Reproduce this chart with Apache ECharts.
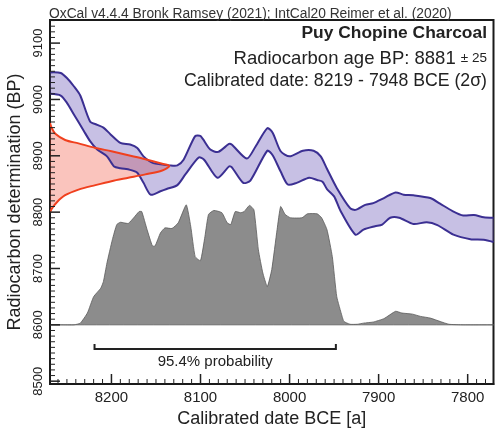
<!DOCTYPE html>
<html>
<head>
<meta charset="utf-8">
<script src="https://cdn.jsdelivr.net/npm/echarts@6/dist/echarts.min.js"></script>
<style>html,body{margin:0;padding:0;background:#fff;}#c{width:500px;height:434px;}</style>
</head>
<body>
<div id="c"></div>
<script>
// ---- data ----
var headerText = 'OxCal v4.4.4 Bronk Ramsey (2021); IntCal20 Reimer et al. (2020)';
var titleText = 'Puy Chopine Charcoal';
var c14Age = 8881, c14Err = 25;
var calRangeText = 'Calibrated date: 8219 - 7948 BCE (2σ)';
var rangeStart = 8219, rangeEnd = 7948, rangeLabel = '95.4% probability';

var xTickLabels = [8200, 8100, 8000, 7900, 7800];
var yTickLabels = [8500, 8600, 8700, 8800, 8900, 9000, 9100];

// IntCal20 band: [year BCE, BP]
var calUpper = [[8268.5,9048],[8257,9047],[8250,9038],[8242,9023],[8235,9007],[8224,8961],[8216,8955],[8209,8950],[8201,8938],[8190,8923],[8179,8920],[8171,8914],[8164,8899],[8153,8887],[8134,8883],[8126,8883],[8119,8893],[8106,8935],[8100,8935],[8089,8911],[8080,8907],[8068,8921],[8065,8920],[8048,8895],[8038,8917],[8025,8949],[8019,8941],[8010,8908],[8000,8899],[7985,8909],[7973,8909],[7965,8899],[7958,8877],[7947,8843],[7932,8807],[7926,8804],[7915,8813],[7906,8816],[7894,8825],[7881,8835],[7872,8831],[7861,8830],[7842,8825],[7831,8815],[7817,8802],[7805,8794],[7793,8795],[7782,8791],[7771,8790]];
var calLower = [[8268.5,9010],[8257,9007],[8250,8994],[8242,8973],[8231,8944],[8224,8926],[8216,8911],[8205,8899],[8197,8881],[8190,8878],[8179,8875],[8171,8870],[8164,8852],[8156,8831],[8145,8837],[8138,8841],[8126,8848],[8117,8867],[8102,8897],[8096,8893],[8081,8861],[8068,8881],[8065,8880],[8052,8852],[8044,8856],[8025,8909],[8019,8901],[8010,8872],[8002,8849],[7992,8852],[7978,8861],[7969,8857],[7963,8854],[7958,8841],[7950,8828],[7943,8803],[7926,8760],[7917,8769],[7904,8775],[7896,8778],[7887,8790],[7877,8790],[7861,8779],[7846,8782],[7834,8777],[7816,8760],[7797,8752],[7782,8751],[7771,8747]];

// measured radiocarbon distribution: BP and relative probability (in years of width)
var radioBP   = [8958, 8949, 8939, 8928, 8922, 8914, 8908, 8901, 8894, 8886, 8882, 8874, 8867, 8861, 8855, 8848, 8840, 8830, 8818, 8806, 8799];
var radioProb = [0,    2,    6,    17,   32,   51,   69,   88,   107,  126,  134,  126,  107,  88,   69,   51,   32,   17,   8,    2,    0];

// calibrated probability: year BCE and relative probability (in BP units of height)
var calYears = [8269,8257,8242,8235,8227,8220,8212,8209,8205,8199,8194,8190,8186,8181,8175,8169,8166,8160,8154,8151,8145,8140,8132,8125,8116,8111,8106,8100,8095,8091,8085,8076,8070,8066,8061,8055,8051,8045,8040,8035,8030,8025,8020,8014,8010,8005,7999,7986,7980,7969,7964,7958,7952,7947,7941,7939,7932,7924,7917,7906,7894,7881,7874,7862,7853,7842,7831,7821,7805,7771];
var calProb  = [0,0,0,3,21,50,65,77,110,151,178,182,181,180,190,201,201,169,140,140,163,172,171,181,213,175,121,114,157,196,203,199,181,178,201,199,201,212,204,133,92,68,98,169,210,196,190,190,197,197,190,169,121,50,15,6,1,1,3,5,11,24,21,19,15,12,6,1,0,0];
var probBase = 8600;

// ---- chart ----
var X_MIN = 7771, X_MAX = 8269, Y_MIN = 8495, Y_MAX = 9141;
var FONT = "'Liberation Sans', Arial, sans-serif";
var xMinor = [], yMinor = [];
for (var v = 7780; v <= 8260; v += 10) if (v % 100) xMinor.push(v);
for (var w = 8500; w <= 9140; w += 10) if (w % 100) yMinor.push(w);

var chart = echarts.init(document.getElementById('c'), null, {renderer: 'canvas'});

function seriesCustom(z, builder, clip) {
  return {type: 'custom', coordinateSystem: 'cartesian2d', z: z, clip: clip !== false, silent: true,
    data: [[X_MIN, Y_MIN]], renderItem: function (p, api) { return builder(api); }};
}

var series = [
  // calibrated probability
  seriesCustom(2, function (api) {
    var pts = calYears.map(function (y, i) { return api.coord([y, probBase + calProb[i]]); });
    return {type: 'polygon', shape: {points: pts, smooth: 0.15},
      style: {fill: '#8c8c8c', stroke: '#5a5a5a', lineWidth: 0.8}};
  }),
  // radiocarbon distribution fill
  seriesCustom(3, function (api) {
    var pts = radioBP.map(function (b, i) { return api.coord([X_MAX - radioProb[i], b]); });
    return {type: 'polygon', shape: {points: pts, smooth: 0.3},
      style: {fill: 'rgba(240,70,50,0.32)', stroke: null}};
  }),
  // calibration band
  seriesCustom(4, function (api) {
    var up = calUpper.map(function (d) { return api.coord(d); });
    var lo = calLower.map(function (d) { return api.coord(d); });
    var poly = up.concat(lo.slice().reverse());
    return {type: 'group', children: [
      {type: 'polygon', shape: {points: poly, smooth: 0.25}, style: {fill: 'rgba(80,60,170,0.32)', stroke: null}},
      {type: 'polyline', shape: {points: up, smooth: 0.25}, style: {fill: null, stroke: '#3b2f92', lineWidth: 2}},
      {type: 'polyline', shape: {points: lo, smooth: 0.25}, style: {fill: null, stroke: '#3b2f92', lineWidth: 2}}
    ]};
  }),
  // radiocarbon curve outline
  seriesCustom(5, function (api) {
    var pts = radioBP.map(function (b, i) { return api.coord([X_MAX - radioProb[i], b]); });
    return {type: 'polyline', shape: {points: pts, smooth: 0.3},
      style: {fill: null, stroke: '#f0401e', lineWidth: 2}};
  }),
  // range bracket
  seriesCustom(6, function (api) {
    var bp = 8557;
    var a = api.coord([rangeStart, bp]), b = api.coord([rangeEnd, bp]);
    return {type: 'group', children: [
      {type: 'polyline', shape: {points: [[a[0], a[1] - 5], a, b, [b[0], b[1] - 5]]},
        style: {fill: null, stroke: '#222', lineWidth: 2}},
      {type: 'text', x: (a[0] + b[0]) / 2, y: a[1] + 13,
        style: {text: rangeLabel, font: '15px ' + FONT, fill: '#222', align: 'center', verticalAlign: 'middle'}}
    ]};
  }),
  // axis ticks (inward), placed through the axis scales
  seriesCustom(10, function (api) {
    var kids = [];
    function tick(p, dx, dy, lw) {
      kids.push({type: 'line', shape: {x1: p[0], y1: p[1], x2: p[0] + dx, y2: p[1] + dy},
        style: {stroke: '#222', lineWidth: lw}});
    }
    xTickLabels.forEach(function (t) { tick(api.coord([t, Y_MIN]), 0, -10, 1.5); });
    xMinor.forEach(function (t) { tick(api.coord([t, Y_MIN]), 0, -5, 1); });
    yTickLabels.forEach(function (t) { tick(api.coord([X_MAX, t]), 10, 0, 1.5); });
    yMinor.forEach(function (t) { tick(api.coord([X_MAX, t]), 5, 0, 1); });
    return {type: 'group', children: kids};
  }, false)
];

var plainNum = function (v) { return String(v); };
var option = {
  animation: false,
  backgroundColor: '#fff',
  grid: {left: 50, right: 6.5, top: 20, bottom: 50, containLabel: false, outerBoundsMode: 'none',
    show: true, borderColor: '#1a1a1a', borderWidth: 2, backgroundColor: 'transparent'},
  xAxis: {type: 'value', min: X_MIN, max: X_MAX, inverse: true, position: 'bottom', splitLine: {show: false},
    axisLine: {show: true, onZero: false, lineStyle: {color: '#1a1a1a', width: 2}},
    axisTick: {show: false},
    axisLabel: {show: true, customValues: xTickLabels, formatter: plainNum, fontSize: 15, color: '#222', margin: 6, fontFamily: FONT},
    name: 'Calibrated date BCE [a]', nameLocation: 'middle', nameGap: 25,
    nameTextStyle: {fontSize: 18, color: '#222', fontFamily: FONT}},
  yAxis: {type: 'value', min: Y_MIN, max: Y_MAX, position: 'left', splitLine: {show: false},
    axisLine: {show: true, onZero: false, lineStyle: {color: '#1a1a1a', width: 2}},
    axisTick: {show: false},
    axisLabel: {show: true, customValues: yTickLabels, formatter: plainNum, rotate: 90, fontSize: 13, color: '#222', margin: 5, fontFamily: FONT},
    name: 'Radiocarbon determination (BP)', nameLocation: 'middle', nameGap: 17,
    nameTextStyle: {fontSize: 18, color: '#222', fontFamily: FONT}},
  series: series,
  graphic: [
    {type: 'text', left: 49, top: 7, z: 100,
      style: {text: headerText, font: '13.8px ' + FONT, fill: '#333'}},
    {type: 'text', right: 13, top: 25, z: 100,
      style: {text: titleText, font: 'bold 17.4px ' + FONT, fill: '#222'}},
    {type: 'text', right: 13, top: 49, z: 100,
      style: {text: '{a|Radiocarbon age BP: ' + c14Age + ' }{b|± ' + c14Err + '}',
        rich: {a: {font: '18.5px ' + FONT, fill: '#222'}, b: {font: '13.5px ' + FONT, fill: '#222'}}}},
    {type: 'text', right: 13, top: 72, z: 100,
      style: {text: calRangeText, font: '17.7px ' + FONT, fill: '#222'}}
  ]
};
chart.setOption(option);
</script>
</body>
</html>
